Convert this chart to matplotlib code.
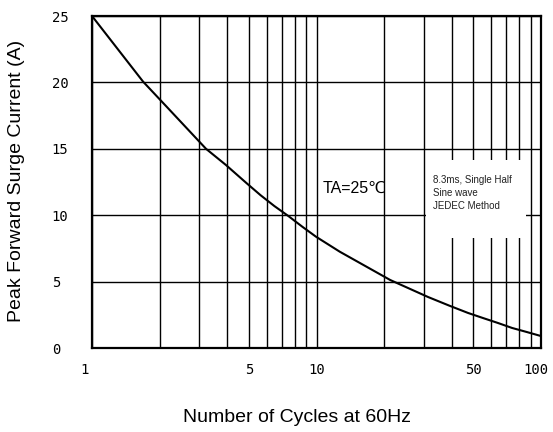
import matplotlib
matplotlib.use("Agg")
import matplotlib.pyplot as plt
import matplotlib.transforms as mtransforms
from matplotlib.patches import Rectangle
from matplotlib.ticker import FixedLocator, NullFormatter

# ---- data ----
cycles = [1, 1.69, 2.15, 3.22, 3.95, 4.89, 5.64, 6.49, 7.49, 8.65, 9.95, 12.7,
          21.3, 31.4, 38.9, 47.3, 55.1, 64.4, 74.3, 86.6, 100]
surge_current = [25, 20.05, 18.17, 15.0, 13.78, 12.40, 11.50, 10.69, 9.94, 9.13,
                 8.38, 7.25, 5.12, 3.84, 3.20, 2.64, 2.26, 1.88, 1.51, 1.20, 0.90]

x_major_ticks = [1, 5, 10, 50, 100]
x_major_labels = ["1", "5", "10", "50", "100"]
x_grid = [2, 3, 4, 6, 7, 8, 9, 20, 30, 40, 60, 70, 80, 90]
y_ticks = [0, 5, 10, 15, 20, 25]
y_labels = ["0", "5", "10", "15", "20", "25"]

fig = plt.figure(figsize=(5.53, 4.32), dpi=100)
ax = fig.add_axes([92/553, 1-348/432, 449/553, 332/432])

ax.set_xscale("log")
ax.set_xlim(1, 100)
ax.set_ylim(0, 25)

ax.xaxis.set_major_locator(FixedLocator(x_major_ticks))
ax.set_xticklabels(x_major_labels)
ax.xaxis.set_minor_locator(FixedLocator(x_grid))
ax.xaxis.set_minor_formatter(NullFormatter())
ax.set_yticks(y_ticks)
ax.set_yticklabels(y_labels)

ax.grid(True, which="both", color="black", linewidth=1.0, zorder=1)
ax.tick_params(which="both", length=0)
ax.tick_params(axis="x", pad=11)
ax.tick_params(axis="y", pad=29)
for lab in ax.get_yticklabels():
    lab.set_horizontalalignment("left")
for lab in ax.get_xticklabels() + ax.get_yticklabels():
    lab.set_fontfamily("DejaVu Sans Mono")
    lab.set_fontsize(10)

# small nudges of the end labels as in the reference
xlabs = ax.get_xticklabels()
xlabs[0].set_transform(xlabs[0].get_transform() +
                       mtransforms.ScaledTranslation(-7/100, 0, fig.dpi_scale_trans))
xlabs[-1].set_transform(xlabs[-1].get_transform() +
                        mtransforms.ScaledTranslation(-5/100, 0, fig.dpi_scale_trans))

for s in ax.spines.values():
    s.set_linewidth(1.6)
    s.set_color("black")
    s.set_zorder(5)

ax.plot(cycles, surge_current, color="black", linewidth=1.5, zorder=4)

# white note box
ax.add_patch(Rectangle((30.6, 8.3), 86 - 30.6, 14.15 - 8.3, facecolor="white",
                       edgecolor="none", zorder=3))
ax.text(33, 13.05, "8.3ms, Single Half\nSine wave\nJEDEC Method", fontsize=7,
        family=["Liberation Sans", "DejaVu Sans"], color="#222222",
        va="top", ha="left", linespacing=1.4, zorder=6)
ax.text(10.7, 12.0, "TA=25\u2103", fontsize=11.5,
        family=["Liberation Sans", "DejaVu Sans"], va="center", ha="left", zorder=6)

fig.text(297/553, 1-418/432, "Number of Cycles at 60Hz", fontsize=14,
         family=["Liberation Sans", "DejaVu Sans"], ha="center", va="center")
fig.text(17/553, 1-181/432, "Peak Forward Surge Current (A)", fontsize=14,
         family=["Liberation Sans", "DejaVu Sans"], ha="center", va="center",
         rotation=90)

fig.savefig("out.png", dpi=100)
